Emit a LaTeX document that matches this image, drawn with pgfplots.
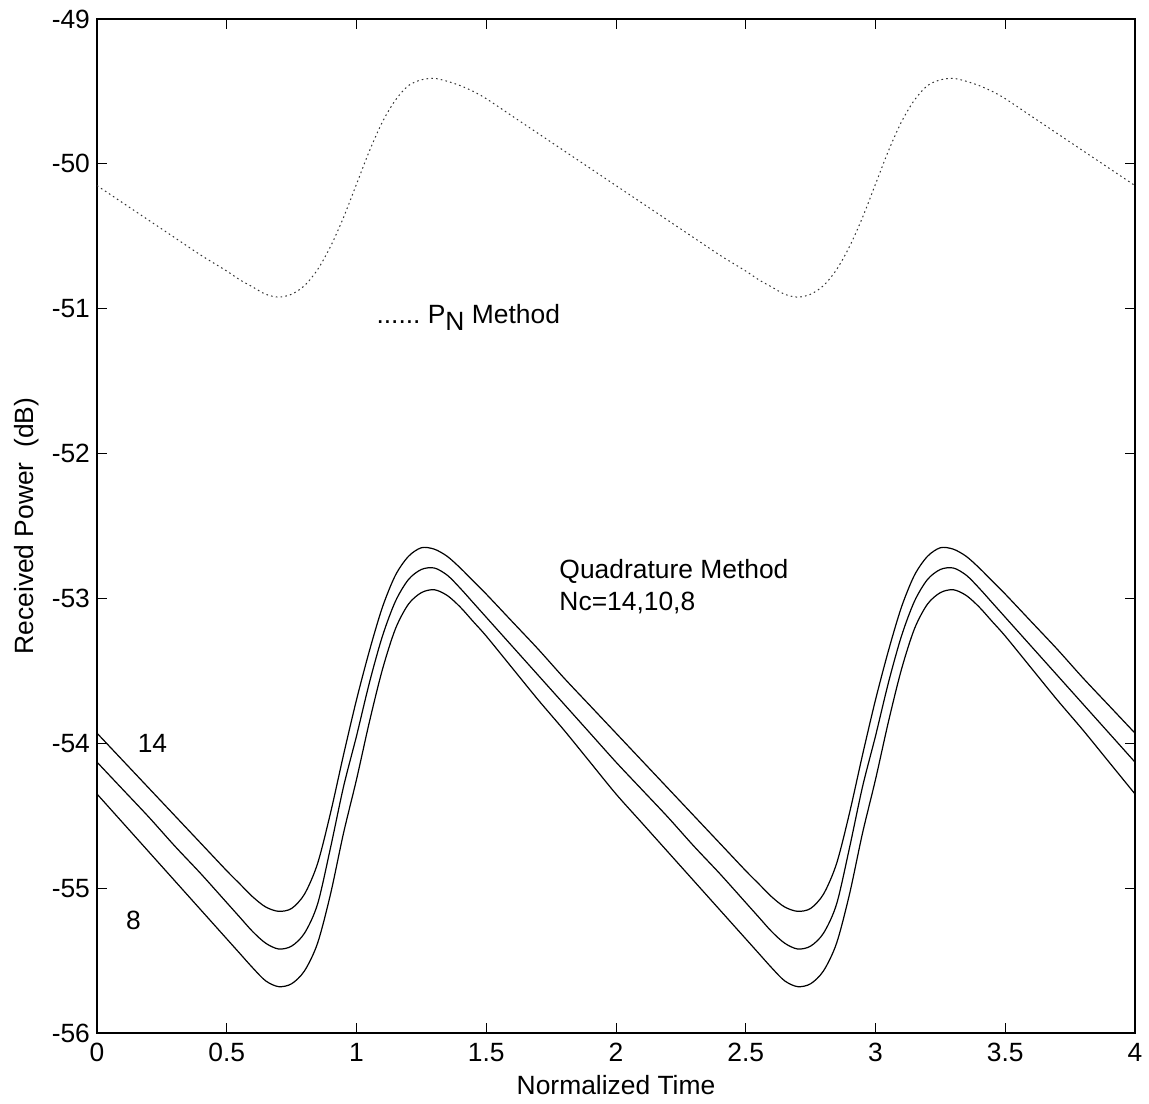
\documentclass[border=0pt]{standalone}
\usepackage{fontspec}
\setmainfont{Liberation Sans}
\usepackage{pgfplots}
\usepackage{pgfplotstable}
\pgfplotsset{compat=1.18}

% received power, Nc = 14 / 10 / 8 and the P_N method
\pgfplotstableread{
x    top    mid    bot    pn
0.00 -53.93 -54.13 -54.35 -50.15
0.10 -54.12 -54.32 -54.55 -50.27
0.20 -54.31 -54.51 -54.75 -50.39
0.30 -54.50 -54.71 -54.95 -50.51
0.40 -54.69 -54.90 -55.15 -50.63
0.50 -54.88 -55.10 -55.35 -50.74
0.55 -54.97 -55.20 -55.45 -50.80
0.60 -55.06 -55.30 -55.55 -50.85
0.65 -55.13 -55.38 -55.64 -50.90
0.70 -55.16 -55.42 -55.68 -50.92
0.75 -55.14 -55.40 -55.66 -50.90
0.80 -55.04 -55.31 -55.57 -50.84
0.85 -54.83 -55.11 -55.38 -50.73
0.90 -54.48 -54.72 -55.04 -50.57
0.95 -54.08 -54.30 -54.62 -50.37
1.00 -53.70 -53.95 -54.25 -50.14
1.05 -53.36 -53.58 -53.85 -49.91
1.10 -53.06 -53.26 -53.49 -49.71
1.15 -52.84 -53.02 -53.21 -49.56
1.20 -52.71 -52.87 -53.04 -49.46
1.25 -52.65 -52.80 -52.96 -49.42
1.30 -52.66 -52.79 -52.94 -49.41
1.35 -52.71 -52.84 -52.98 -49.43
1.40 -52.79 -52.93 -53.06 -49.46
1.45 -52.88 -53.03 -53.16 -49.50
1.50 -52.97 -53.13 -53.26 -49.55
1.60 -53.16 -53.33 -53.48 -49.67
1.70 -53.35 -53.53 -53.70 -49.79
1.80 -53.55 -53.73 -53.91 -49.91
1.90 -53.74 -53.93 -54.13 -50.03
2.00 -53.93 -54.13 -54.35 -50.15
2.10 -54.12 -54.32 -54.55 -50.27
2.20 -54.31 -54.51 -54.75 -50.39
2.30 -54.50 -54.71 -54.95 -50.51
2.40 -54.69 -54.90 -55.15 -50.63
2.50 -54.88 -55.10 -55.35 -50.74
2.55 -54.97 -55.20 -55.45 -50.80
2.60 -55.06 -55.30 -55.55 -50.85
2.65 -55.13 -55.38 -55.64 -50.90
2.70 -55.16 -55.42 -55.68 -50.92
2.75 -55.14 -55.40 -55.66 -50.90
2.80 -55.04 -55.31 -55.57 -50.84
2.85 -54.83 -55.11 -55.38 -50.73
2.90 -54.48 -54.72 -55.04 -50.57
2.95 -54.08 -54.30 -54.62 -50.37
3.00 -53.70 -53.95 -54.25 -50.14
3.05 -53.36 -53.58 -53.85 -49.91
3.10 -53.06 -53.26 -53.49 -49.71
3.15 -52.84 -53.02 -53.21 -49.56
3.20 -52.71 -52.87 -53.04 -49.46
3.25 -52.65 -52.80 -52.96 -49.42
3.30 -52.66 -52.79 -52.94 -49.41
3.35 -52.71 -52.84 -52.98 -49.43
3.40 -52.79 -52.93 -53.06 -49.46
3.45 -52.88 -53.03 -53.16 -49.50
3.50 -52.97 -53.13 -53.26 -49.55
3.60 -53.16 -53.33 -53.48 -49.67
3.70 -53.35 -53.53 -53.70 -49.79
3.80 -53.55 -53.73 -53.91 -49.91
3.90 -53.74 -53.93 -54.13 -50.03
4.00 -53.93 -54.13 -54.35 -50.15
}\power

\begin{document}
\begin{tikzpicture}
\begin{axis}[
    scale only axis,
    width=519pt, height=507pt,
    xmin=0, xmax=4, ymin=-56, ymax=-49,
    xtick={0,0.5,1,1.5,2,2.5,3,3.5,4},
    ytick={-56,-55,-54,-53,-52,-51,-50,-49},
    tick pos=both, tick align=inside,
    major tick length=5pt,
    axis line style={line width=0.7pt},
    tick style={line width=0.5pt, black},
    /pgf/number format/assume math mode=true,
    tick label style={font=\fontsize{13.2}{15}\selectfont},
    xticklabel style={yshift=-1.5pt},
    label style={font=\fontsize{13.2}{15}\selectfont},
    xlabel={Normalized Time},
    ylabel={Received Power\ \ (dB)},
    xlabel style={at={(axis description cs:0.5,-0.0515)}, anchor=center},
    ylabel style={at={(axis description cs:-0.0680,0.5)}, anchor=center},
]
\addplot[black, line width=0.6pt, smooth, tension=0.5] table[x=x, y=top] {\power};
\addplot[black, line width=0.6pt, smooth, tension=0.5] table[x=x, y=mid] {\power};
\addplot[black, line width=0.6pt, smooth, tension=0.5] table[x=x, y=bot] {\power};
\addplot[black!80, line width=0.5pt, smooth, tension=0.5, dash pattern=on 0.8pt off 1.6pt] table[x=x, y=pn] {\power};

\node[anchor=west, font=\fontsize{13.2}{15}\selectfont] at (axis cs:1.05,-51.06)
    {......\ P\raisebox{-0.55ex}{N} Method};
\node[anchor=west, align=left, font=\fontsize{13.2}{15.8}\selectfont] at (axis cs:1.755,-52.92)
    {Quadrature Method\\Nc=14,10,8};
\node[anchor=west, font=\fontsize{13.2}{15}\selectfont] at (axis cs:0.13,-54.0) {14};
\node[anchor=west, font=\fontsize{13.2}{15}\selectfont] at (axis cs:0.085,-55.22) {8};
\end{axis}
\pgfresetboundingbox
\path[use as bounding box] (-48.5pt,-35pt) rectangle (526pt,516.5pt);
\end{tikzpicture}
\end{document}
